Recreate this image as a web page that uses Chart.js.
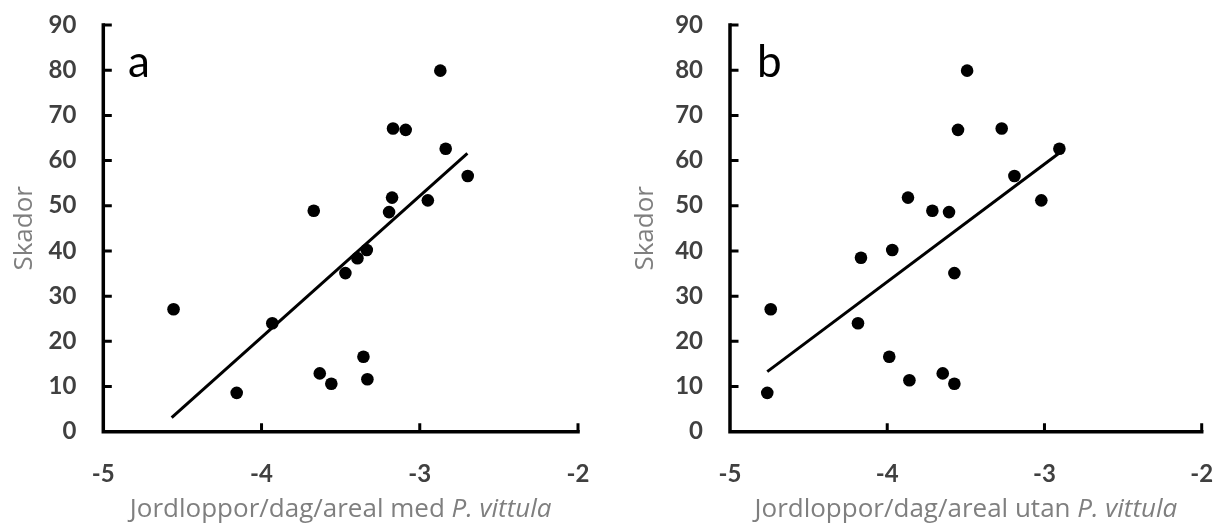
<!DOCTYPE html>
<html>
<head>
<meta charset="utf-8">
<script src="https://cdn.jsdelivr.net/npm/chart.js@4.4.1/dist/chart.umd.min.js"></script>
<style>
  html,body{margin:0;padding:0;background:#fff;}
  #wrap{position:relative;width:1218px;height:523px;overflow:hidden;}
  canvas{position:absolute;top:0;}
</style>
</head>
<body>
<div id="wrap">
  <canvas id="cA" width="609" height="523" style="left:0px;width:609px;height:523px"></canvas>
  <canvas id="cB" width="609" height="523" style="left:609px;width:609px;height:523px"></canvas>
</div>
<script>
// ---- data ----
const xTickValues = [-5, -4, -3, -2];
const yTickValues = [0, 10, 20, 30, 40, 50, 60, 70, 80, 90];

// panel a: Jordloppor/dag/areal med P. vittula vs Skador
const aX = [-4.556, -4.157, -3.932, -3.632, -3.559, -3.470, -3.394, -3.335, -3.356, -3.331,
            -3.670, -2.870, -3.169, -3.089, -2.836, -2.697, -3.175, -2.949, -3.194];
const aY = [27.1, 8.6, 24.0, 12.9, 10.6, 35.1, 38.4, 40.2, 16.6, 11.6,
            48.9, 79.9, 67.1, 66.8, 62.6, 56.6, 51.8, 51.2, 48.6];
const trendAX = [-4.568, -2.699];
const trendAY = [3.1, 61.6];

// panel b: Jordloppor/dag/areal utan P. vittula vs Skador
const bX = [-4.763, -4.741, -4.186, -4.167, -3.987, -3.968, -3.859, -3.647, -3.573, -3.573,
            -3.492, -3.550, -3.272, -2.905, -3.191, -3.868, -3.020, -3.713, -3.607];
const bY = [8.6, 27.1, 24.0, 38.5, 16.6, 40.2, 11.4, 12.9, 10.6, 35.1,
            79.9, 66.8, 67.1, 62.6, 56.6, 51.8, 51.2, 48.9, 48.6];
const trendBX = [-4.763, -2.912];
const trendBY = [13.3, 61.5];

const yTitle = 'Skador';
const xTitleA = ['Jordloppor/dag/areal med ', 'P. vittula'];
const xTitleB = ['Jordloppor/dag/areal utan ', 'P. vittula'];

// ---- rendering ----
const FONT = 'Lato, "Open Sans", sans-serif';
const TFONT = '"Open Sans", Lato, sans-serif';
const TSIZE = 26;
const tickColor = '#404040';
const titleColor = '#7f7f7f';

function pts(xs, ys){ return xs.map((x,i)=>({x:x, y:ys[i]})); }

const decorPlugin = {
  id: 'decor',
  afterDraw(chart, args, opts){
    const ctx = chart.ctx;
    const ca = chart.chartArea;
    const xs = chart.scales.x, ys = chart.scales.y;
    ctx.save();
    // axes
    ctx.strokeStyle = '#000';
    ctx.lineWidth = 3.5;
    ctx.lineCap = 'square';
    ctx.beginPath();
    ctx.moveTo(ca.left, ca.top);
    ctx.lineTo(ca.left, ca.bottom);
    ctx.lineTo(ca.right, ca.bottom);
    ctx.stroke();
    // inward tick marks
    ctx.lineCap = 'butt';
    ctx.lineWidth = 3;
    ctx.beginPath();
    yTickValues.forEach(v=>{
      const py = ys.getPixelForValue(v);
      if (v === yTickValues[0]) return;
      ctx.moveTo(ca.left, py); ctx.lineTo(ca.left + 8.5, py);
    });
    xTickValues.forEach(v=>{
      const px = xs.getPixelForValue(v);
      if (v === xTickValues[0]) return;
      ctx.moveTo(px, ca.bottom); ctx.lineTo(px, ca.bottom - 8.5);
    });
    ctx.stroke();

    // y title (rotated)
    ctx.fillStyle = titleColor;
    ctx.font = TSIZE + 'px ' + TFONT;
    ctx.textAlign = 'center';
    ctx.textBaseline = 'alphabetic';
    ctx.save();
    ctx.translate(opts.yTitleX, (ca.top + ca.bottom) / 2);
    ctx.rotate(-Math.PI / 2);
    ctx.fillText(yTitle, 0, 0);
    ctx.restore();

    // x title with italic part
    const parts = opts.xTitle;
    const fN = TSIZE + 'px ' + TFONT, fI = 'italic ' + TSIZE + 'px ' + TFONT;
    ctx.font = fN; const w1 = ctx.measureText(parts[0]).width;
    ctx.font = fI; const w2 = ctx.measureText(parts[1]).width;
    const cx = (ca.left + ca.right) / 2;
    let sx = cx - (w1 + w2) / 2;
    ctx.textAlign = 'left';
    ctx.font = fN; ctx.fillText(parts[0], sx, 516.5);
    ctx.font = fI; ctx.fillText(parts[1], sx + w1, 516.5);

    // panel letter
    ctx.fillStyle = '#000';
    ctx.font = '44px ' + FONT;
    ctx.textAlign = 'left';
    ctx.fillText(opts.letter, opts.letterX, 77);
    ctx.restore();
  }
};

function makeChart(id, xs, ys, tx, ty, leftW, rightPad, letter, letterX, xTitle, yTitleX){
  return new Chart(document.getElementById(id), {
    type: 'scatter',
    data: {
      datasets: [
        {
          data: pts(xs, ys),
          backgroundColor: '#000',
          borderColor: '#000',
          pointRadius: 6.3,
          pointBorderWidth: 0,
          order: 1
        },
        {
          data: pts(tx, ty),
          showLine: true,
          borderColor: '#000',
          borderWidth: 3,
          pointRadius: 0,
          fill: false,
          order: 2
        }
      ]
    },
    options: {
      responsive: false,
      animation: false,
      events: [],
      layout: { padding: { top: 25, right: rightPad, left: 0, bottom: 0 } },
      plugins: {
        legend: { display: false },
        tooltip: { enabled: false },
        decor: { letter: letter, letterX: letterX, xTitle: xTitle, yTitleX: yTitleX }
      },
      scales: {
        x: {
          type: 'linear', min: -5, max: -2,
          afterBuildTicks: s => { s.ticks = xTickValues.map(v=>({value:v})); },
          afterFit: s => { s.height = 523 - 431.7; s.paddingLeft = 0; s.paddingRight = 0; },
          grid: { display: false, drawTicks: false },
          border: { display: false },
          ticks: {
            color: tickColor, padding: 28,
            font: { family: FONT, size: 24, weight: 'bold' },
            callback: v => String(v)
          }
        },
        y: {
          type: 'linear', min: 0, max: 90,
          afterBuildTicks: s => { s.ticks = yTickValues.map(v=>({value:v})); },
          afterFit: s => { s.width = leftW; s.paddingTop = 0; s.paddingBottom = 0; },
          grid: { display: false, drawTicks: false },
          border: { display: false },
          ticks: {
            color: tickColor, padding: 27,
            font: { family: FONT, size: 24, weight: 'bold' },
            callback: v => String(v)
          }
        }
      }
    },
    plugins: [decorPlugin]
  });
}

makeChart('cA', aX, aY, trendAX, trendAY, 103.3, 609 - 578, 'a', 128, xTitleA, 31.5);
makeChart('cB', bX, bY, trendBX, trendBY, 121, 609 - 592.7, 'b', 757 - 609, xTitleB, 653.3 - 609);
</script>
</body>
</html>
